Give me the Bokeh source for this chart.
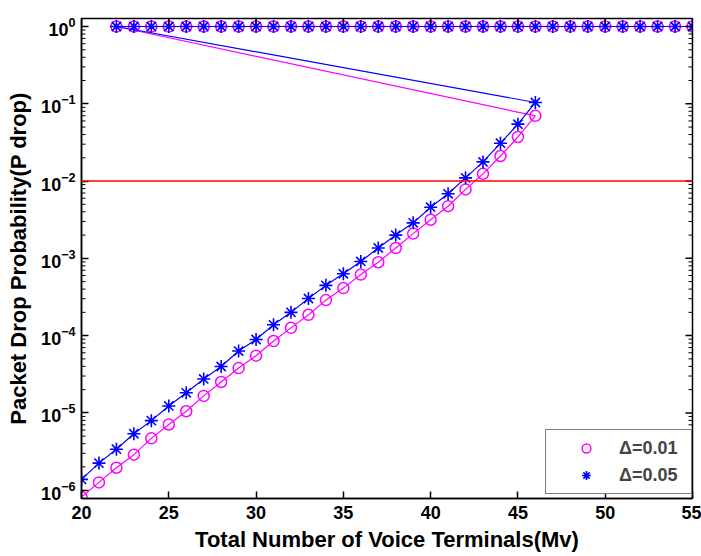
import math
from bokeh.plotting import figure
from bokeh.models import Span, Legend, LegendItem, FixedTicker, LogTicker
from bokeh.embed import file_html
from bokeh.resources import INLINE

# ---- data ----
x_rise = [20, 21, 22, 23, 24, 25, 26, 27, 28, 29, 30, 31, 32, 33, 34, 35, 36, 37, 38, 39, 40, 41, 42, 43, 44, 45, 46]
p_d001 = [8.13e-7, 1.26e-6, 1.95e-6, 2.88e-6, 4.68e-6, 7.08e-6, 1.05e-5, 1.66e-5, 2.51e-5, 3.80e-5,
          5.50e-5, 8.51e-5, 1.26e-4, 1.86e-4, 2.88e-4, 4.12e-4, 6.17e-4, 8.91e-4, 1.36e-3, 2.09e-3,
          3.16e-3, 4.73e-3, 7.80e-3, 1.24e-2, 2.11e-2, 3.72e-2, 6.98e-2]
p_d005 = [1.38e-6, 2.24e-6, 3.39e-6, 5.37e-6, 7.94e-6, 1.23e-5, 1.82e-5, 2.75e-5, 3.98e-5, 6.31e-5,
          8.91e-5, 1.38e-4, 2.00e-4, 3.02e-4, 4.47e-4, 6.31e-4, 9.12e-4, 1.36e-3, 2.00e-3, 2.88e-3,
          4.59e-3, 6.84e-3, 1.10e-2, 1.77e-2, 3.09e-2, 5.45e-2, 0.104]
x_sat = [22, 23, 24, 25, 26, 27, 28, 29, 30, 31, 32, 33, 34, 35, 36, 37, 38, 39, 40, 41, 42, 43, 44,
         45, 46, 47, 48, 49, 50, 51, 52, 53, 54, 55]
p_sat_d001 = [1.0, 1.0, 1.0, 1.0, 1.0, 1.0, 1.0, 1.0, 1.0, 1.0, 1.0, 1.0, 1.0, 1.0, 1.0, 1.0, 1.0,
              1.0, 1.0, 1.0, 1.0, 1.0, 1.0, 1.0, 1.0, 1.0, 1.0, 1.0, 1.0, 1.0, 1.0, 1.0, 1.0, 1.0]
p_sat_d005 = [1.0, 1.0, 1.0, 1.0, 1.0, 1.0, 1.0, 1.0, 1.0, 1.0, 1.0, 1.0, 1.0, 1.0, 1.0, 1.0, 1.0,
              1.0, 1.0, 1.0, 1.0, 1.0, 1.0, 1.0, 1.0, 1.0, 1.0, 1.0, 1.0, 1.0, 1.0, 1.0, 1.0, 1.0]
threshold = 1e-2
x_ticks = [20, 25, 30, 35, 40, 45, 50, 55]
y_decades = [1e-6, 1e-5, 1e-4, 1e-3, 1e-2, 1e-1, 1e0]
labels = ["\u0394=0.01", "\u0394=0.05"]

X_MIN, X_MAX = 20, 55
Y_MIN, Y_MAX = 7.8e-7, 1.27

MAG = "#FF00FF"
BLU = "#0000FF"
FONT = "Liberation Sans"

p = figure(width=701, height=556, y_axis_type="log",
           x_range=(X_MIN, X_MAX), y_range=(Y_MIN, Y_MAX),
           output_backend="svg", toolbar_location=None,
           min_border_left=81, min_border_right=9, min_border_top=18, min_border_bottom=58)
p.background_fill_color = "white"
p.border_fill_color = "white"
p.outline_line_color = "black"
p.outline_line_width = 1.5
p.xgrid.visible = False
p.ygrid.visible = False

# lines (each series as one polyline: rising part then saturated part)
p.line(x_rise + x_sat, p_d001 + p_sat_d001, line_color=MAG, line_width=1.2)
p.line(x_rise + x_sat, p_d005 + p_sat_d005, line_color=BLU, line_width=1.2)

r1 = p.scatter(x_rise + x_sat, p_d001 + p_sat_d001, marker="circle", size=11,
               fill_color=None, line_color=MAG, line_width=1.5)
r2 = p.scatter(x_rise + x_sat, p_d005 + p_sat_d005, marker="asterisk", size=13,
               line_color=BLU, line_width=1.6)

p.add_layout(Span(location=threshold, dimension="width", line_color="#FF0000", line_width=1.5))

# axes
xa = p.xaxis[0]
ya = p.yaxis[0]
xa.ticker = FixedTicker(ticks=x_ticks)
ya.ticker = LogTicker(num_minor_ticks=10)
for ax in (xa, ya):
    ax.axis_line_color = "black"
    ax.axis_line_width = 1.5
    ax.major_tick_in = 7
    ax.major_tick_out = 0
    ax.minor_tick_in = 4
    ax.minor_tick_out = 0
    ax.major_tick_line_color = "black"
    ax.major_tick_line_width = 1.5
    ax.minor_tick_line_color = None
    ax.major_label_text_font = FONT
    ax.major_label_text_font_style = "bold"
    ax.major_label_text_font_size = "18px"
    ax.major_label_text_color = "black"
    ax.axis_label_text_font = FONT
    ax.axis_label_text_font_style = "bold"
    ax.axis_label_text_font_size = "22px"
    ax.axis_label_text_color = "black"
xa.major_label_standoff = 7
xa.axis_label = "Total Number of Voice Terminals(Mv)"
xa.axis_label_standoff = 5
ya.major_label_standoff = 6
ya.axis_label = "Packet Drop Probability(P drop)"
ya.axis_label_standoff = 7

# box ticks on top and right plus log minor ticks (inward), drawn as clipped dash markers
p.scatter(x_ticks, [Y_MAX] * len(x_ticks), marker="dash", angle=math.pi / 2, size=14,
          line_color="black", line_width=1.5)
p.scatter([X_MAX] * len(y_decades), y_decades, marker="dash", size=14,
          line_color="black", line_width=1.5)
minor_y = [m * d for d in y_decades for m in range(2, 10) if Y_MIN <= m * d <= Y_MAX]
for xb in (X_MIN, X_MAX):
    p.scatter([xb] * len(minor_y), minor_y, marker="dash", size=8,
              line_color="black", line_width=1)

legend = Legend(items=[LegendItem(label=labels[0], renderers=[r1]),
                       LegendItem(label=labels[1], renderers=[r2])],
                location=(464, 4))
legend.margin = 0
legend.padding = 7
legend.spacing = 5
legend.glyph_width = 66
legend.glyph_height = 22
legend.label_height = 22
legend.label_width = 65
legend.label_standoff = 0
legend.label_text_font = FONT
legend.label_text_font_style = "bold"
legend.label_text_font_size = "18px"
legend.border_line_color = "black"
legend.border_line_width = 1.2
legend.background_fill_color = "white"
legend.background_fill_alpha = 1.0
p.add_layout(legend, "center")

open("out.html", "w").write(file_html(p, INLINE))
